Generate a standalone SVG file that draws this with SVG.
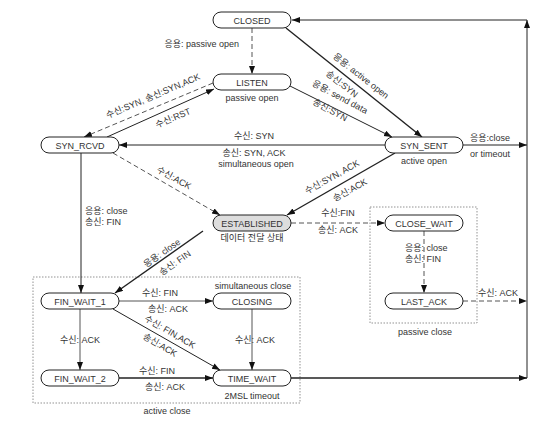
<svg xmlns="http://www.w3.org/2000/svg" width="558" height="426" viewBox="0 0 558 426">
<style>
.n rect{fill:#fff;stroke:#222;stroke-width:1}
.n text{font-family:"Liberation Sans","Noto Sans CJK KR",sans-serif;font-size:9px;fill:#333;text-anchor:middle}
.l{font-family:"Liberation Sans","Noto Sans CJK KR",sans-serif;font-size:9px;fill:#333}
.m{text-anchor:middle}
.c path{fill:none;stroke:#222;stroke-width:1}
.c .k{stroke-width:1.4}
.c .g{stroke:#555}
.c .d{stroke:#555;stroke-dasharray:5,3}
.box{fill:none;stroke:#777;stroke-width:0.8;stroke-dasharray:1.5,1.5}
</style>
<defs>
<marker id="a" markerUnits="userSpaceOnUse" markerWidth="9" markerHeight="7" refX="8" refY="3" orient="auto">
<path d="M0,0 L8,3 L0,6 z" fill="#111"/>
</marker>
</defs>
<rect class="box" x="33" y="277" width="267" height="126"/>
<rect class="box" x="370" y="207" width="107" height="116"/>
<g class="c">
<path class="d" d="M252,28 V74" marker-end="url(#a)"/>
<path class="k" d="M286,28 L422,137" marker-end="url(#a)"/>
<path d="M290,86 L392,137" marker-end="url(#a)"/>
<path class="d" d="M213,83 L84,137" marker-end="url(#a)"/>
<path d="M107,137 L214,89" marker-end="url(#a)"/>
<path d="M385,145 H119" marker-end="url(#a)"/>
<path class="k" d="M395,153 L287,215" marker-end="url(#a)"/>
<path class="d" d="M113,153 L220,215" marker-end="url(#a)"/>
<path d="M81,153 V293" marker-end="url(#a)"/>
<path class="d" d="M291,223 H385" marker-end="url(#a)"/>
<path class="k" d="M203,231 L115,293" marker-end="url(#a)"/>
<path class="d" d="M424,231 V293" marker-end="url(#a)"/>
<path class="d" d="M463,301 H527" marker-end="url(#a)"/>
<path d="M463,145 H527" marker-end="url(#a)"/>
<path class="k" d="M291,378 H527" marker-end="url(#a)"/>
<path d="M527,378 V20" marker-end="url(#a)"/>
<path d="M527,20 H292" marker-end="url(#a)"/>
<path class="g" d="M119,301 H213" marker-end="url(#a)"/>
<path class="g" d="M80,309 V370" marker-end="url(#a)"/>
<path d="M113,309 L220,370" marker-end="url(#a)"/>
<path class="g" d="M252,309 V370" marker-end="url(#a)"/>
<path class="k" d="M119,378 H213" marker-end="url(#a)"/>
</g>
<g id="closed" class="n"><rect x="213" y="12" width="78" height="16" rx="8"/><text x="252" y="23.5">CLOSED</text></g>
<g id="listen" class="n"><rect x="213" y="74" width="78" height="16" rx="8"/><text x="252" y="85.5">LISTEN</text></g>
<g id="syn_rcvd" class="n"><rect x="41" y="137" width="78" height="16" rx="8"/><text x="80" y="148.5">SYN_RCVD</text></g>
<g id="syn_sent" class="n"><rect x="385" y="137" width="78" height="16" rx="8"/><text x="424" y="148.5">SYN_SENT</text></g>
<g id="established" class="n"><rect x="213" y="215" width="78" height="16" rx="8" style="fill:#ddd"/><text x="252" y="226.5">ESTABLISHED</text></g>
<g id="close_wait" class="n"><rect x="385" y="215" width="78" height="16" rx="8"/><text x="424" y="226.5">CLOSE_WAIT</text></g>
<g id="last_ack" class="n"><rect x="385" y="293" width="78" height="16" rx="8"/><text x="424" y="304.5">LAST_ACK</text></g>
<g id="fin_wait_1" class="n"><rect x="41" y="293" width="78" height="16" rx="8"/><text x="80" y="304.5">FIN_WAIT_1</text></g>
<g id="closing" class="n"><rect x="213" y="293" width="78" height="16" rx="8"/><text x="252" y="304.5">CLOSING</text></g>
<g id="fin_wait_2" class="n"><rect x="41" y="370" width="78" height="16" rx="8"/><text x="80" y="381.5">FIN_WAIT_2</text></g>
<g id="time_wait" class="n"><rect x="213" y="370" width="78" height="16" rx="8"/><text x="252" y="381.5">TIME_WAIT</text></g>
<g id="labels">
<text class="l" x="239" y="47" text-anchor="end">응용: passive open</text>
<text class="l m" x="252" y="101">passive open</text>
<text class="l m" transform="rotate(-23 153 96)" x="153" y="99">수신:SYN, 송신:SYN,ACK</text>
<text class="l m" transform="rotate(-23 173 118)" x="173" y="121">수신:RST</text>
<text class="l m" transform="rotate(38 361 76)" x="361" y="79">응용: active open</text>
<text class="l m" transform="rotate(38 342 84)" x="342" y="87">송신:SYN</text>
<text class="l m" transform="rotate(28 340 97)" x="340" y="100">응용: send data</text>
<text class="l m" transform="rotate(28 330 110)" x="330" y="113">송신:SYN</text>
<text class="l" x="470" y="141">응용:close</text>
<text class="l" x="470" y="157">or timeout</text>
<text class="l m" x="424" y="164">active open</text>
<text class="l m" x="254" y="139">수신: SYN</text>
<text class="l m" x="254" y="156">송신: SYN, ACK</text>
<text class="l m" x="256" y="167">simultaneous open</text>
<text class="l m" transform="rotate(29 174 178)" x="174" y="181">수신:ACK</text>
<text class="l" x="85" y="214">응용: close</text>
<text class="l" x="85" y="225">송신: FIN</text>
<text class="l m" x="252" y="241">데이터 전달 상태</text>
<text class="l m" transform="rotate(-29 332 177)" x="332" y="180">수신:SYN, ACK</text>
<text class="l m" transform="rotate(-29 350 190)" x="350" y="193">송신:ACK</text>
<text class="l m" transform="rotate(-35 162 253)" x="162" y="256">응용: close</text>
<text class="l m" transform="rotate(-35 175 263)" x="175" y="266">송신: FIN</text>
<text class="l m" x="338" y="216">수신:FIN</text>
<text class="l m" x="338" y="233">송신: ACK</text>
<text class="l" x="405" y="251">응용: close</text>
<text class="l" x="405" y="262">송신: FIN</text>
<text class="l" x="478" y="296">수신: ACK</text>
<text class="l m" x="425" y="335">passive close</text>
<text class="l m" x="253" y="289">simultaneous close</text>
<text class="l m" x="160" y="296">수신: FIN</text>
<text class="l m" x="168" y="312">송신: ACK</text>
<text class="l m" transform="rotate(30 170 332)" x="170" y="335">수신: FIN,ACK</text>
<text class="l m" transform="rotate(30 160 345)" x="160" y="348">송신:ACK</text>
<text class="l" x="60" y="343">수신: ACK</text>
<text class="l" x="235" y="343">수신: ACK</text>
<text class="l m" x="157" y="374">수신: FIN</text>
<text class="l m" x="165" y="390">송신: ACK</text>
<text class="l m" x="252" y="399">2MSL timeout</text>
<text class="l m" x="167" y="414">active close</text>
</g>
</svg>
